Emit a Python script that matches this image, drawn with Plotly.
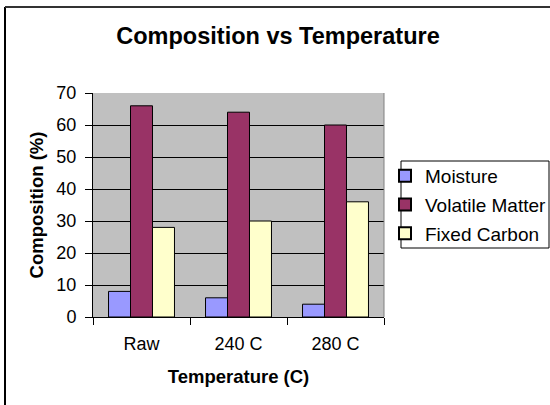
import plotly.graph_objects as go

categories = ["Raw", "240 C", "280 C"]
moisture = [8, 6, 4]
volatile_matter = [66, 64, 60]
fixed_carbon = [28, 30, 36]
y_ticks = [0, 10, 20, 30, 40, 50, 60, 70]

W, H = 550, 405
L, R, T, B = 93, 384, 93, 317

fig = go.Figure()
for name, vals, col in [("Moisture", moisture, "#9999FF"),
                        ("Volatile Matter", volatile_matter, "#993366"),
                        ("Fixed Carbon", fixed_carbon, "#FFFFCC")]:
    fig.add_trace(go.Bar(x=categories, y=vals, name=name, marker_color=col,
                         legendgroup=name,
                         marker_line_color="black", marker_line_width=1))

def px(x):
    return (x - L) / (R - L)

def py(y):
    return (B - y) / (B - T)

fig.update_layout(
    width=W, height=H,
    margin=dict(l=L, r=W - R, t=T, b=H - B, autoexpand=False),
    paper_bgcolor="white", plot_bgcolor="#C0C0C0",
    font=dict(family="Liberation Sans, Arial", size=18, color="black"),
    title=dict(text="<b>Composition vs Temperature</b>", x=278 / W, xanchor="center",
               y=1 - 36 / H, yanchor="middle", font=dict(size=23.5)),
    barmode="group", bargap=0.32, bargroupgap=0,
    showlegend=True,
    legend=dict(x=px(385), y=py(157), xanchor="left", yanchor="top",
                borderwidth=0, bgcolor="rgba(0,0,0,0)",
                font=dict(size=19), tracegroupgap=1, itemsizing="constant"),
    xaxis=dict(title=dict(text="<b>Temperature (C)</b>", standoff=17, font=dict(size=18.5)),
               showline=True, linecolor="black", linewidth=1, ticks="outside",
               tickson="boundaries", ticklen=7, tickcolor="black", showgrid=False,
               ticklabelstandoff=10, tickfont=dict(size=18)),
    yaxis=dict(title=dict(text="<b>Composition (%)</b>", standoff=7, font=dict(size=18.5)),
               range=[0, 70], tickvals=y_ticks, showline=True, linecolor="black",
               linewidth=1, ticks="outside", ticklen=7, tickcolor="black",
               showgrid=True, gridcolor="black", gridwidth=1, zeroline=False,
               ticklabelstandoff=5, tickfont=dict(size=18)),
    shapes=[
        dict(type="line", xref="paper", yref="paper", x0=px(5), x1=px(5), y0=py(7), y1=py(405),
             line=dict(color="black", width=2)),
        dict(type="line", xref="paper", yref="paper", x0=px(5), x1=px(550), y0=py(7), y1=py(7),
             line=dict(color="#333333", width=2)),
        dict(type="line", xref="paper", yref="paper", x0=1, x1=1, y0=0, y1=1,
             line=dict(color="#808080", width=1)),
        dict(type="rect", xref="paper", yref="paper", x0=px(401), x1=px(549), y0=py(161), y1=py(248),
             line=dict(color="black", width=1)),
    ],
)

fig.write_html("out.html", config={"displayModeBar": False},
               post_script="document.body.style.margin='0';")
